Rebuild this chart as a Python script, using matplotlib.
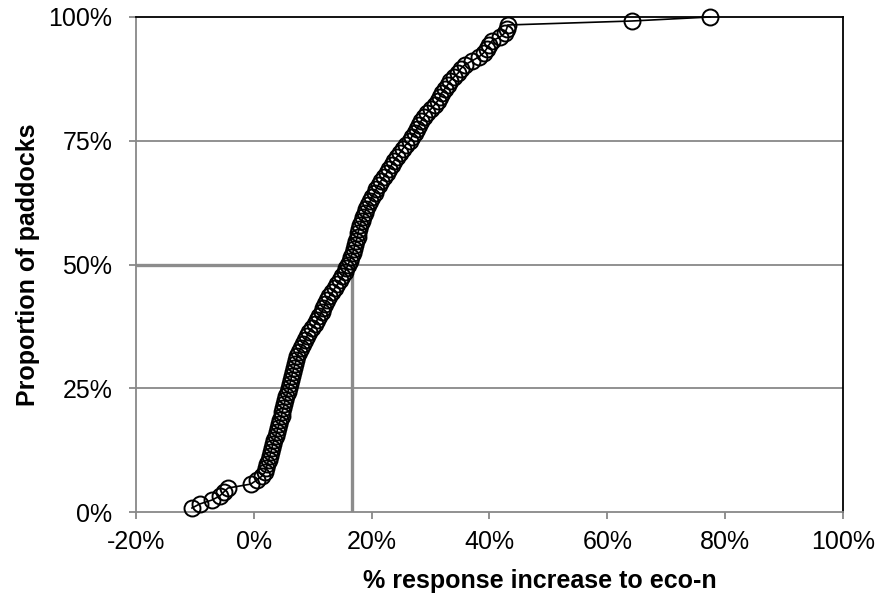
import matplotlib
matplotlib.use("Agg")
import matplotlib.pyplot as plt
from matplotlib.ticker import FuncFormatter

# % response increase to eco-n, sorted
response_pct = [
    -10.5, -9.2, -7.1, -5.8, -5.1, -4.4, -0.5, 0.5, 1.4, 1.9,
    2.1, 2.3, 2.5, 2.7, 2.9, 3.1, 3.2, 3.5, 3.7, 3.9,
    4.1, 4.3, 4.5, 4.7, 4.8, 5.0, 5.2, 5.3, 5.5, 5.8,
    5.9, 6.1, 6.3, 6.4, 6.6, 6.8, 7.0, 7.2, 7.4, 7.6,
    8.0, 8.3, 8.7, 9.0, 9.3, 9.8, 10.4, 10.7, 11.1, 11.5,
    11.8, 12.1, 12.4, 12.8, 13.3, 13.7, 14.2, 14.6, 15.0, 15.4,
    15.7, 16.0, 16.3, 16.5, 16.8, 17.0, 17.2, 17.4, 17.6, 17.7,
    17.9, 18.1, 18.3, 18.6, 18.8, 19.1, 19.4, 19.8, 20.1, 20.5,
    20.8, 21.2, 21.6, 22.1, 22.6, 23.0, 23.4, 23.8, 24.3, 24.8,
    25.3, 25.8, 26.5, 26.8, 27.3, 27.7, 28.1, 28.4, 28.9, 29.4,
    30.1, 30.7, 31.2, 31.6, 31.9, 32.4, 32.9, 33.3, 34.0, 34.7,
    35.1, 35.8, 37.0, 38.2, 39.0, 39.5, 39.9, 40.4, 41.8, 42.6,
    42.9, 43.1, 64.2, 77.4,
]
n_paddocks = len(response_pct)
proportion_pct = [100.0 * (i + 1) / n_paddocks for i in range(n_paddocks)]

median_response = 16.7
median_proportion = 50.0

x_ticks = [-20, 0, 20, 40, 60, 80, 100]
y_ticks = [0, 25, 50, 75, 100]

plt.rcParams['font.family'] = ['Liberation Sans', 'DejaVu Sans']

fig = plt.figure(figsize=(8.79, 5.93), dpi=100)
ax = fig.add_axes([136 / 879, 1 - 512 / 593, (843 - 136) / 879, (512 - 17) / 593])

grid_c = '#888888'
for yv in y_ticks[1:-1]:
    ax.axhline(yv, color=grid_c, lw=1.3, zorder=1)

# median reference lines
ax.plot([-20, median_response], [median_proportion, median_proportion],
        color='#8c8c8c', lw=2.4, zorder=2, solid_capstyle='butt')
ax.plot([median_response, median_response], [0, median_proportion],
        color='#8c8c8c', lw=2.4, zorder=2, solid_capstyle='butt')

ax.plot(response_pct, proportion_pct, color='black', lw=1.2, marker='o',
        markersize=11.5, markerfacecolor='none', markeredgecolor='black',
        markeredgewidth=1.4, zorder=3, clip_on=False)

ax.set_xlim(-20, 100)
ax.set_ylim(0, 100)
ax.set_xticks(x_ticks)
ax.set_yticks(y_ticks)
ax.xaxis.set_major_formatter(FuncFormatter(lambda v, p: f"{v:.0f}%"))
ax.yaxis.set_major_formatter(FuncFormatter(lambda v, p: f"{v:.0f}%"))

ax.tick_params(axis='both', labelsize=18, colors=grid_c, labelcolor='black',
               length=5, width=1.3, direction='out')
ax.tick_params(axis='y', pad=12)
ax.tick_params(axis='x', pad=8)

for s in ['left', 'bottom']:
    ax.spines[s].set_color(grid_c)
    ax.spines[s].set_linewidth(1.3)
for s in ['top', 'right']:
    ax.spines[s].set_color('black')
    ax.spines[s].set_linewidth(1.3)

ax.set_xlabel('% response increase to eco-n', fontsize=18, fontweight='bold', labelpad=4)
ax.xaxis.set_label_coords(0.571, -0.115)
ax.set_ylabel('Proportion of paddocks', fontsize=18, fontweight='bold', labelpad=6)

fig.savefig('out.png', dpi=100)
